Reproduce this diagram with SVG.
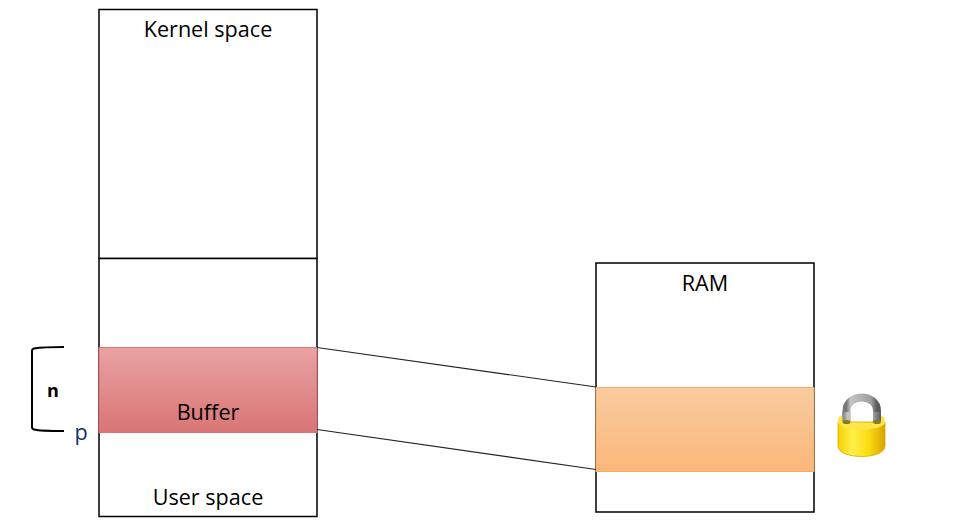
<svg xmlns="http://www.w3.org/2000/svg" width="953" height="523" viewBox="0 0 953 523">
<style>
.box{fill:#fff;stroke:#000;stroke-width:1.500}
.conn{fill:none;stroke:#222;stroke-width:1.100}
text{font-family:"Open Sans","Noto Sans",sans-serif;font-size:21.600px;fill:#000;text-anchor:middle}
</style>
<defs>
<linearGradient id="red" x1="0" y1="0" x2="0" y2="1"><stop offset="0" stop-color="#e9a2a2"/><stop offset="1" stop-color="#d97575"/></linearGradient>
<linearGradient id="org" x1="0" y1="0" x2="0" y2="1"><stop offset="0" stop-color="#f9cba0"/><stop offset="1" stop-color="#fbb779"/></linearGradient>
<linearGradient id="bodyx" x1="0" y1="0" x2="1" y2="0"><stop offset="0" stop-color="#f6d000"/><stop offset=".3" stop-color="#fff04a"/><stop offset=".65" stop-color="#fbdc10"/><stop offset="1" stop-color="#d9a300"/></linearGradient>
<linearGradient id="shackle" x1="0" y1="0" x2="1" y2="0"><stop offset="0" stop-color="#777"/><stop offset=".13" stop-color="#c4c4c4"/><stop offset=".8" stop-color="#a0a0a0"/><stop offset="1" stop-color="#5a5a5a"/></linearGradient>
</defs>
<g id="kernel-space"><rect class="box" x="99" y="9.500" width="218" height="249"/><text x="208" y="37">Kernel space</text></g>
<g id="user-space"><rect class="box" x="99" y="258.500" width="218" height="258"/><text x="208" y="505">User space</text></g>
<g id="buffer"><rect x="99" y="347.500" width="218" height="85" fill="url(#red)" stroke="#e07070" stroke-width="1"/><text x="208" y="420">Buffer</text></g>
<g id="ram"><rect class="box" x="596" y="263" width="218" height="249"/><text x="705" y="291">RAM</text></g>
<g id="ram-region"><rect x="596" y="387.500" width="218" height="84" fill="url(#org)" stroke="#f6ae62" stroke-width="1"/></g>
<g id="connectors">
<path class="conn" d="M317 347.500L596 387M317 429.500L596 469.500"/>
<path d="M64 347C52 347 40 347.500 34 348.500Q32 349 32 351L32 427Q32 429 34 429.500C40 431 52 431 64 431" fill="none" stroke="#000" stroke-width="2"/>
</g>
<g id="n-label"><text x="53" y="397" style="font-size:18px;font-weight:700">n</text></g>
<g id="p-label"><text x="81" y="440" style="fill:#0f2f7a">p</text></g>
<g id="lock">
<path d="M846.500 422V411C846.500 393 877 393 877 411V422" fill="none" stroke="url(#shackle)" stroke-width="8"/>
<path d="M838 422V446C838 460 885 460 885 446V422Z" fill="url(#bodyx)" stroke="#d9a800" stroke-width=".8"/>
<path d="M838 422C838 414 843 416 843 416L851 416V423L877 423V416L880 416C885 416 885 419 885 422C885 432 838 432 838 422Z" fill="#fde64a"/>
<path d="M842.500 421V412H850.500V423ZM873 423V412H881V421Z" fill="url(#shackle)"/>
<ellipse cx="846.500" cy="422" rx="4" ry="2" fill="#8a7a20"/>
<ellipse cx="877" cy="422" rx="4" ry="2" fill="#8a7a20"/>
</g>
</svg>
